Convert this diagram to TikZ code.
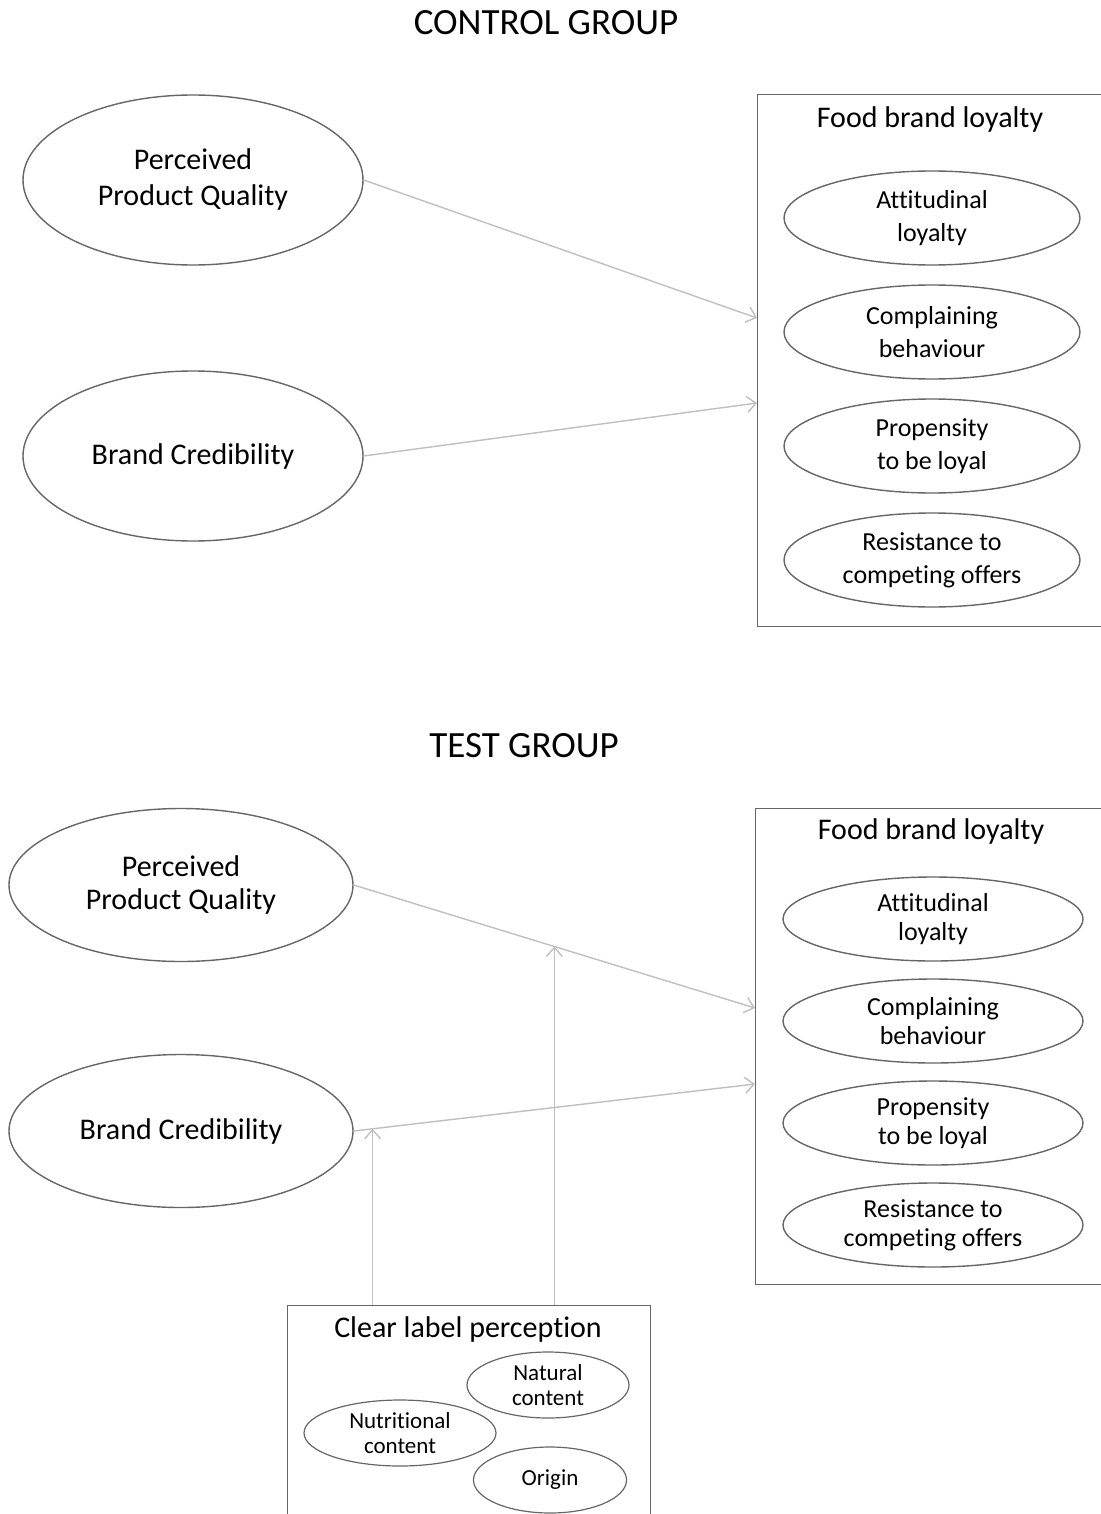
\documentclass[tikz,border=0pt]{standalone}
\usepackage{fontspec}
\setmainfont[Ligatures={NoCommon}]{Carlito}
\usetikzlibrary{shapes,arrows,arrows.meta,positioning,calc}
\tikzstyle{grouptitle} = [font=\fontsize{18.5}{22}\selectfont]
\tikzstyle{construct} = [ellipse, draw=black!60, line width=0.7pt, minimum width=170pt, minimum height=85pt, align=center, inner sep=0pt, font=\fontsize{15}{18}\selectfont]
\tikzstyle{dimension} = [ellipse, draw=black!60, line width=0.7pt, minimum width=148pt, minimum height=47pt, align=center, inner sep=0pt, font=\fontsize{13}{16.5}\selectfont]
\tikzstyle{groupbox} = [rectangle, draw=black!60, line width=0.7pt, inner sep=0pt]
\tikzstyle{boxtitle} = [font=\fontsize{15}{18}\selectfont]
\tikzstyle{cue} = [ellipse, draw=black!60, line width=0.6pt, minimum height=33pt, align=center, inner sep=0pt, font=\fontsize{11.5}{12.5}\selectfont]
\tikzstyle{arrow} = [draw=black!25, line width=0.7pt, -{Straight Barb[length=4.5pt, width=8pt]}]

\begin{document}
\begin{tikzpicture}[x=0.5pt, y=-0.5pt, node distance=57pt]
\useasboundingbox (0,0) rectangle (1100,1514);

% control group
\node [grouptitle] (ctitle) at (546,23) {CONTROL GROUP};
\node [construct] (ppqA) at (193,180) {Perceived\\Product Quality};
\node [construct] (bcA) at (193,456) {Brand Credibility};
\node [groupbox, anchor=north west, minimum width=174.5pt, minimum height=266pt] (fblA) at (757,94) {};
\node [boxtitle] (fblAtitle) at (930,120) {Food brand loyalty};
\node [dimension] (attA) at (932,218) {Attitudinal\\loyalty};
\node [dimension, below of=attA] (compA) {Complaining\\behaviour};
\node [dimension, below of=compA] (propA) {Propensity\\to be loyal};
\node [dimension, below of=propA] (resA) {Resistance to\\competing offers};
\coordinate (inA1) at (757,318);
\coordinate (inA2) at (757,403);
\draw [arrow] (ppqA.east) -- (inA1);
\draw [arrow] (bcA.east) -- (inA2);

% test group
\node [grouptitle] (ttitle) at (524,746) {TEST GROUP};
\node [construct, minimum width=172pt, minimum height=76.5pt, font=\fontsize{15}{16.5}\selectfont] (ppqB) at (181,885) {Perceived\\Product Quality};
\node [construct, minimum width=172pt, minimum height=76.5pt] (bcB) at (181,1131) {Brand Credibility};
\node [groupbox, anchor=north west, minimum width=175.5pt, minimum height=238pt] (fblB) at (755,808) {};
\node [boxtitle] (fblBtitle) at (931,831) {Food brand loyalty};
\node [dimension, minimum width=150pt, minimum height=42pt, font=\fontsize{13}{14.5}\selectfont] (attB) at (933,919) {Attitudinal\\loyalty};
\node [dimension, minimum width=150pt, minimum height=42pt, font=\fontsize{13}{14.5}\selectfont, below of=attB, node distance=51pt] (compB) {Complaining\\behaviour};
\node [dimension, minimum width=150pt, minimum height=42pt, font=\fontsize{13}{14.5}\selectfont, below of=compB, node distance=51pt] (propB) {Propensity\\to be loyal};
\node [dimension, minimum width=150pt, minimum height=42pt, font=\fontsize{13}{14.5}\selectfont, below of=propB, node distance=51pt] (resB) {Resistance to\\competing offers};
\coordinate (inB1) at (755,1008);
\coordinate (inB2) at (755,1084);
\draw [arrow] (ppqB.east) -- (inB1);
\draw [arrow] (bcB.east) -- (inB2);

% moderator
\node [groupbox, anchor=north west, minimum width=181.5pt, minimum height=108pt] (clp) at (287,1305) {};
\node [boxtitle] (clptitle) at (468,1329) {Clear label perception};
\node [cue, minimum width=81pt] (natural) at (548,1385) {Natural\\content};
\node [cue, minimum width=96pt] (nutri) at (400,1433) {Nutritional\\content};
\node [cue, minimum width=76.5pt] (origin) at (550,1480) {Origin};
\coordinate (modB1) at ($(ppqB.east)!0.5!(inB1)$);
\coordinate (modB2) at ($(bcB.east)!0.047!(inB2)$);
\draw [arrow] (modB1 |- clp.north) -- (modB1);
\draw [arrow] (modB2 |- clp.north) -- (modB2);

\end{tikzpicture}
\end{document}
